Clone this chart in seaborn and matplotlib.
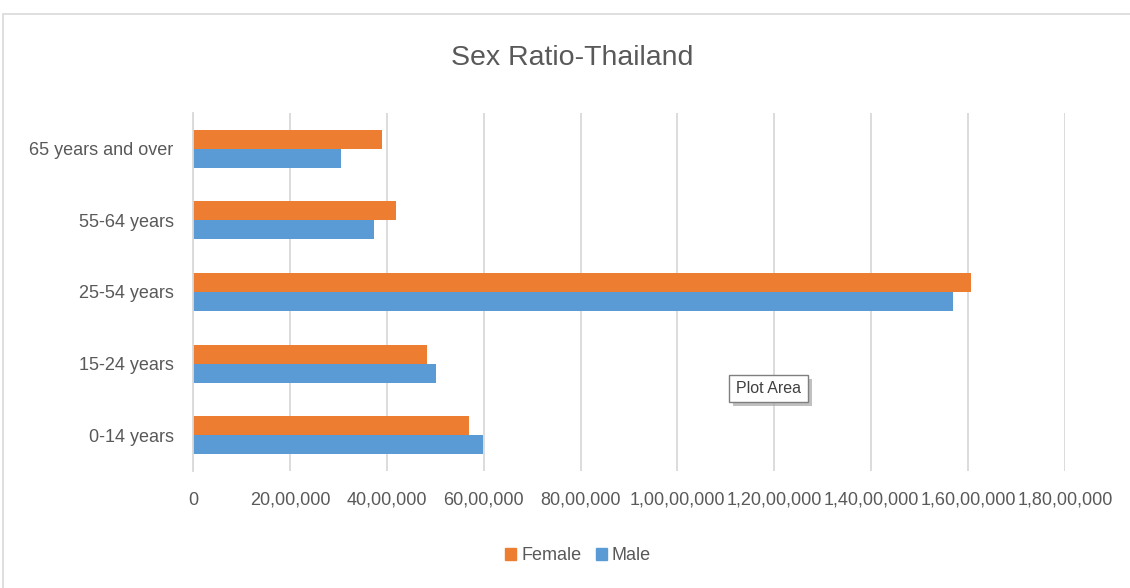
import matplotlib
matplotlib.use("Agg")
import matplotlib.pyplot as plt
import matplotlib.patches as mpatches
from matplotlib.ticker import FuncFormatter
import seaborn as sns
import pandas as pd

categories = ["65 years and over", "55-64 years", "25-54 years", "15-24 years", "0-14 years"]
female = [3900000, 4200000, 16050000, 4830000, 5700000]
male = [3050000, 3740000, 15680000, 5020000, 5990000]
series = ["Female", "Male"]
colors = ["#ED7D31", "#5B9BD5"]
x_ticks = list(range(0, 18000001, 2000000))

sns.set_theme(style="white")
plt.rcParams['font.family'] = ['Liberation Sans Narrow', 'Liberation Sans', 'DejaVu Sans']
txt = "#595959"

df = pd.DataFrame({
    "Age": categories * 2,
    "Sex": ["Female"] * len(categories) + ["Male"] * len(categories),
    "Population": female + male,
})

fig = plt.figure(figsize=(11.3, 5.88), dpi=100)
ax = fig.add_axes([193 / 1130, 1 - 471 / 588, (1065 - 193) / 1130, (471 - 113) / 588])

sns.barplot(data=df, y="Age", x="Population", hue="Sex", order=categories,
            hue_order=series, palette=colors, orient="h", width=0.53,
            saturation=1, ax=ax, legend=False, linewidth=0)

ax.set_xlim(0, 18000000)
ax.set_ylim(4.5, -0.5)
ax.set_xticks(x_ticks)


def indian(v, pos):
    v = int(round(v))
    if v == 0:
        return "0"
    s = str(v)
    last3 = s[-3:]
    rest = s[:-3]
    parts = []
    while len(rest) > 2:
        parts.insert(0, rest[-2:])
        rest = rest[:-2]
    if rest:
        parts.insert(0, rest)
    return ",".join(parts + [last3])


ax.xaxis.set_major_formatter(FuncFormatter(indian))
ax.grid(axis="x", color="#D9D9D9", linewidth=1.3)
ax.set_axisbelow(True)
for s in ["top", "right", "bottom"]:
    ax.spines[s].set_visible(False)
ax.spines["left"].set_color("#D9D9D9")
ax.spines["left"].set_linewidth(1.3)
ax.set_xlabel("")
ax.set_ylabel("")
ax.tick_params(axis="x", length=0, pad=15, labelsize=13, labelcolor=txt)
ax.tick_params(axis="y", length=0, pad=14, labelsize=13, labelcolor=txt)

fig.text(572.5 / 1130, 1 - 58 / 588, "Sex Ratio-Thailand", ha="center", va="center",
         fontsize=20.5, color=txt)

handles = [mpatches.Patch(color=c, label=l) for c, l in zip(colors, series)]
fig.legend(handles=handles, loc="center", bbox_to_anchor=(578 / 1130, 1 - 556 / 588),
           ncol=2, frameon=False, fontsize=13, labelcolor=txt, handlelength=0.6,
           handleheight=0.6, handletextpad=0.3, columnspacing=0.8)

# chart border
fig.patches.append(mpatches.Rectangle((3 / 1130, -0.01), 1.1, 1 - 14 / 588 + 0.01,
                                      transform=fig.transFigure, fill=False,
                                      edgecolor="#D9D9D9", linewidth=1.2))

# "Plot Area" tooltip
fig.patches.append(mpatches.Rectangle((733 / 1130, 1 - 406 / 588), 79 / 1130, 27 / 588,
                                      transform=fig.transFigure, facecolor="#A6A6A6",
                                      edgecolor="none", alpha=0.7))
fig.patches.append(mpatches.Rectangle((729 / 1130, 1 - 402 / 588), 79 / 1130, 27 / 588,
                                      transform=fig.transFigure, facecolor="white",
                                      edgecolor="#7F7F7F", linewidth=1))
fig.text(768.5 / 1130, 1 - 388.5 / 588, "Plot Area", ha="center", va="center",
         fontsize=11.5, color="#404040")

fig.savefig("out.png", dpi=100)
